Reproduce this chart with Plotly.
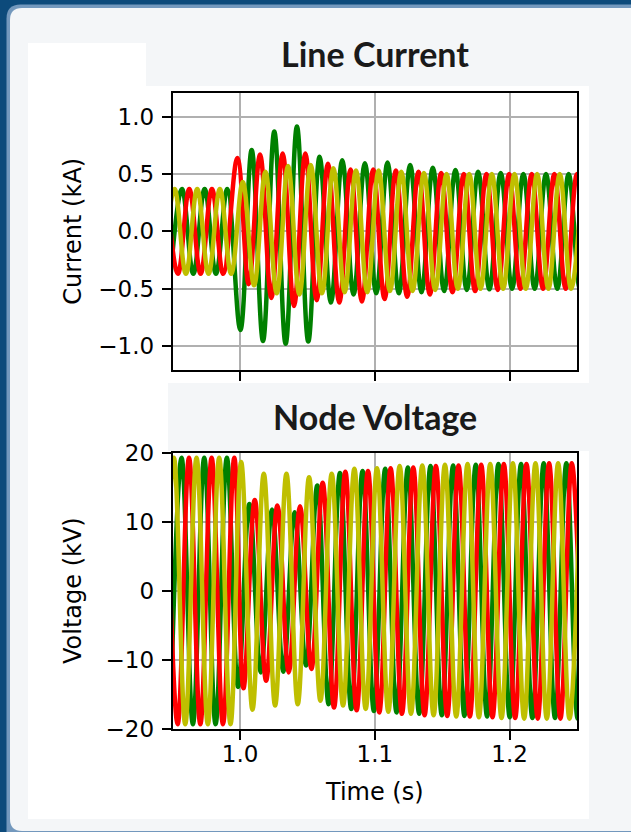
import plotly.graph_objects as go

# ---------------- data ----------------
HALF_CYCLE = 0.0084  # s between successive extrema of each phase

# Line current (kA): signed extremum values, one per half cycle
cur_green_pre_t0 = 0.9485
cur_green_pre = [-0.37, 0.37, -0.37, 0.37, -0.37, 0.37]
cur_green_post_t0 = 1.0002
cur_green_post = [-0.86, 0.71, -0.955, 0.87, -0.98, 0.915, -0.96, 0.65, -0.62, 0.62,
                  -0.55, 0.595, -0.54, 0.60, -0.54, 0.58, -0.53, 0.555, -0.52, 0.535,
                  -0.51, 0.52, -0.505, 0.51, -0.50, 0.50, -0.50, 0.50, -0.50, 0.50,
                  -0.50, 0.50]

cur_red_pre_t0 = 0.9455
cur_red_pre = [0.37, -0.37, 0.37, -0.37, 0.37, -0.37]
cur_red_post_t0 = 0.998
cur_red_post = [0.64, -0.46, 0.67, -0.58, 0.68, -0.65, 0.68, -0.60, 0.59, -0.62,
                0.54, -0.61, 0.54, -0.59, 0.53, -0.57, 0.52, -0.55, 0.51, -0.53,
                0.50, -0.52, 0.50, -0.51, 0.50, -0.50, 0.50, -0.50, 0.50, -0.50,
                0.50, -0.50]

cur_yellow_pre_t0 = 0.9430
cur_yellow_pre = [-0.37, 0.37, -0.37, 0.37, -0.37, 0.37, -0.37]
cur_yellow_post_t0 = 1.0020
cur_yellow_post = [0.43, -0.47, 0.52, -0.54, 0.57, -0.55, 0.58, -0.54, 0.55, -0.53,
                   0.53, -0.53, 0.53, -0.52, 0.52, -0.52, 0.51, -0.51, 0.50, -0.50,
                   0.50, -0.50, 0.50, -0.50, 0.50, -0.50, 0.50, -0.50, 0.50, -0.50,
                   0.50]

# Node voltage (kV): signed extremum values, one per half cycle
volt_green_pre_t0 = 0.9482
volt_green_pre = [-19.3, 19.3, -19.3, 19.3, -19.3, 19.3]
volt_green_post_t0 = 0.9985
volt_green_post = [-13.9, 12.6, -11.8, 11.8, -11.7, 11.4, -10.8, 15.3, -16.4, 17.1,
                   -17.1, 17.4, -17.4, 17.7, -17.6, 17.9, -17.8, 18.1, -18.0, 18.2,
                   -18.1, 18.3, -18.2, 18.4, -18.3, 18.4, -18.4, 18.5, -18.4, 18.5,
                   -18.5, 18.5]

volt_red_pre_t0 = 0.9453
volt_red_pre = [19.3, -19.3, 19.3, -19.3, 19.3, -19.3, 19.3]
volt_red_post_t0 = 1.0025
volt_red_post = [-14.1, 13.2, -13.0, 12.4, -11.8, 12.3, -11.3, 15.7, -16.9, 17.3,
                 -17.3, 17.4, -17.6, 17.8, -17.8, 17.9, -18.0, 18.1, -18.1, 18.2,
                 -18.2, 18.3, -18.3, 18.4, -18.4, 18.4, -18.5, 18.5, -18.5, 18.5,
                 -18.5]

volt_yellow_pre_t0 = 0.9425
volt_yellow_pre = [-19.3, 19.3, -19.3, 19.3, -19.3, 19.3, -19.3]
volt_yellow_post_t0 = 1.0008
volt_yellow_post = [18.7, -17.2, 17.0, -16.6, 17.0, -16.4, 16.5, -15.9, 17.0, -16.6,
                    17.7, -17.1, 17.8, -17.5, 18.1, -17.8, 18.2, -18.0, 18.3, -18.2,
                    18.4, -18.3, 18.4, -18.4, 18.5, -18.5, 18.5, -18.5, 18.5, -18.5,
                    18.5]

x_ticks = [1.0, 1.1, 1.2]
x_ticktext = ["1.0", "1.1", "1.2"]
cur_ticks = [-1.0, -0.5, 0.0, 0.5, 1.0]
cur_ticktext = ["\u22121.0", "\u22120.5", "0.0", "0.5", "1.0"]
volt_ticks = [-20, -10, 0, 10, 20]
volt_ticktext = ["\u221220", "\u221210", "0", "10", "20"]

titles = ["Line Current", "Node Voltage"]
y_labels = ["Current (kA)", "Voltage (kV)"]
x_label = "Time (s)"

GREEN, RED, YELLOW = "#008000", "#ff0000", "#bfbf00"

# ---------------- layout geometry (pixels) ----------------
W, H = 631, 832
def px(x):
    return x / W
def py(y):
    return 1 - y / H

PLOT_L, PLOT_R = 172.7, 577.0
CUR_T, CUR_B = 93.3, 370.0
VOL_T, VOL_B = 453.0, 729.0


def wave(t0_pre, pre, t0_post, post):
    t = [t0_pre + i * HALF_CYCLE for i in range(len(pre))]
    t += [t0_post + i * HALF_CYCLE for i in range(len(post))]
    return t, list(pre) + list(post)


fig = go.Figure()

series = [
    ("x", "y", GREEN, cur_green_pre_t0, cur_green_pre, cur_green_post_t0, cur_green_post),
    ("x", "y", RED, cur_red_pre_t0, cur_red_pre, cur_red_post_t0, cur_red_post),
    ("x", "y", YELLOW, cur_yellow_pre_t0, cur_yellow_pre, cur_yellow_post_t0, cur_yellow_post),
    ("x2", "y2", GREEN, volt_green_pre_t0, volt_green_pre, volt_green_post_t0, volt_green_post),
    ("x2", "y2", RED, volt_red_pre_t0, volt_red_pre, volt_red_post_t0, volt_red_post),
    ("x2", "y2", YELLOW, volt_yellow_pre_t0, volt_yellow_pre, volt_yellow_post_t0, volt_yellow_post),
]
for xa, ya, col, t0a, pre, t0b, post in series:
    t, v = wave(t0a, pre, t0b, post)
    fig.add_trace(go.Scatter(
        x=t, y=v, mode="lines", xaxis=xa, yaxis=ya, showlegend=False,
        line=dict(color=col, width=4.5, shape="spline", smoothing=1.1),
        hoverinfo="skip"))

tickfont = dict(family="DejaVu Sans", size=23, color="black")
common = dict(showline=True, linecolor="black", linewidth=2, mirror=True,
              ticks="outside", ticklen=9, tickwidth=2, tickcolor="black",
              showgrid=True, gridcolor="#b0b0b0", gridwidth=2, zeroline=False,
              tickfont=tickfont, fixedrange=True, automargin=False)

fig.update_layout(
    template="none",
    width=W, height=H, margin=dict(l=0, r=0, t=0, b=0, pad=0, autoexpand=False),
    paper_bgcolor="#0c4a7b", plot_bgcolor="white",
    xaxis=dict(domain=[px(PLOT_L), px(PLOT_R)], range=[0.95, 1.25], anchor="y",
               tickvals=x_ticks, ticktext=x_ticktext, showticklabels=False, **common),
    yaxis=dict(domain=[py(CUR_B), py(CUR_T)], range=[-1.208, 1.204], anchor="x",
               tickvals=cur_ticks, ticktext=cur_ticktext, ticklabelstandoff=3, **common),
    xaxis2=dict(domain=[px(PLOT_L), px(PLOT_R)], range=[0.95, 1.25], anchor="y2",
                tickvals=x_ticks, ticktext=x_ticktext, ticklabelstandoff=-6, **common),
    yaxis2=dict(domain=[py(VOL_B), py(VOL_T)], range=[-20, 20], anchor="x2",
                tickvals=volt_ticks, ticktext=volt_ticktext, ticklabelstandoff=3, **common),
)


def rounded_rect(x0, y0, x1, y1, r):
    rx, ry = r / W, r / H
    X0, X1, Y0, Y1 = px(x0), px(x1), py(y0), py(y1)
    return (f"M {X0 + rx},{Y0} L {X1 - rx},{Y0} Q {X1},{Y0} {X1},{Y0 - ry} "
            f"L {X1},{Y1 + ry} Q {X1},{Y1} {X1 - rx},{Y1} L {X0 + rx},{Y1} "
            f"Q {X0},{Y1} {X0},{Y1 + ry} L {X0},{Y0 - ry} Q {X0},{Y0} {X0 + rx},{Y0} Z")


PANEL = "#f4f6f8"
shapes = [
    dict(type="path", path=rounded_rect(6.5, 4.5, 660, 850, 14), fillcolor="#7398bd",
         line_width=0, xref="paper", yref="paper", layer="below"),
    dict(type="path", path=rounded_rect(10, 8, 660, 831, 12), fillcolor=PANEL,
         line_width=0, xref="paper", yref="paper", layer="below"),
    dict(type="rect", x0=px(28), x1=px(589), y0=py(43), y1=py(819), fillcolor="white",
         line_width=0, xref="paper", yref="paper", layer="below"),
    dict(type="rect", x0=px(146), x1=px(589), y0=py(43), y1=py(86), fillcolor=PANEL,
         line_width=0, xref="paper", yref="paper", layer="below"),
    dict(type="rect", x0=px(168), x1=px(589), y0=py(383), y1=py(451), fillcolor=PANEL,
         line_width=0, xref="paper", yref="paper", layer="below"),
]
fig.update_layout(shapes=shapes)

cx = px((PLOT_L + PLOT_R) / 2)
label_font = dict(family="DejaVu Sans", size=24, color="black")
title_font = dict(family="Lato", size=34, color="#1a1a1a", weight="bold")
annotations = [
    dict(text=titles[0], x=cx, y=py(53), font=title_font),
    dict(text=titles[1], x=cx, y=py(416), font=title_font),
    dict(text=y_labels[0], x=px(73), y=py((CUR_T + CUR_B) / 2), textangle=-90, font=label_font),
    dict(text=y_labels[1], x=px(73), y=py((VOL_T + VOL_B) / 2), textangle=-90, font=label_font),
    dict(text=x_label, x=cx, y=py(792), font=label_font),
]
for a in annotations:
    a.update(xref="paper", yref="paper", showarrow=False, xanchor="center", yanchor="middle")
fig.update_layout(annotations=annotations)

fig.write_html(
    "out.html",
    config={"displayModeBar": False},
    post_script="document.body.style.margin='0';document.body.style.overflow='hidden';",
)
